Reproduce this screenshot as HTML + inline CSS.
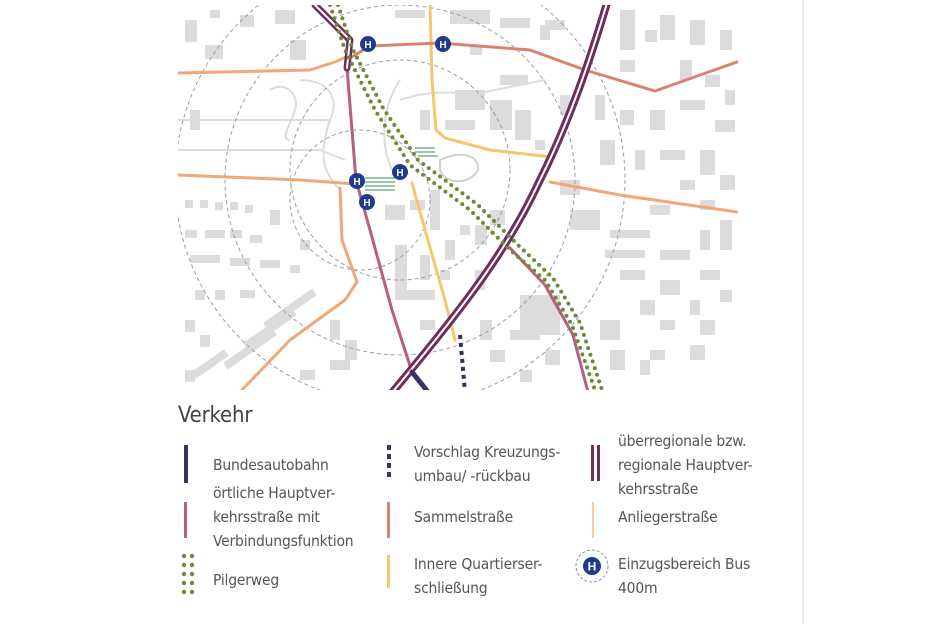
<!DOCTYPE html>
<html><head><meta charset="utf-8"><style>
body{margin:0;width:936px;height:624px;background:#fff;overflow:hidden;position:relative;font-family:"Liberation Sans",sans-serif}
.t{position:absolute;font-size:15.5px;color:#555;line-height:24px;font-family:"DejaVu Sans Condensed","Liberation Sans",sans-serif;letter-spacing:-0.2px}
.ic{position:absolute}
</style></head><body>
<div style="position:absolute;left:802px;top:0;width:2px;height:624px;background:#ececec"></div>
<svg width="936" height="400" style="position:absolute;left:0;top:0">
<defs><clipPath id="c"><rect x="178" y="5" width="560" height="385"/></clipPath></defs>
<g clip-path="url(#c)">
<g fill="#dcdcdc">
<rect x="185" y="20" width="12" height="22"/><rect x="205" y="45" width="18" height="14"/><rect x="240" y="15" width="14" height="12"/><rect x="275" y="10" width="20" height="14"/><rect x="290" y="40" width="16" height="20"/><rect x="210" y="10" width="10" height="8"/>
<rect x="395" y="10" width="30" height="8"/><rect x="450" y="10" width="40" height="14"/><rect x="500" y="18" width="30" height="10"/><rect x="545" y="20" width="20" height="10"/>
<rect x="455" y="90" width="30" height="20"/><rect x="445" y="120" width="30" height="10"/><rect x="490" y="100" width="22" height="30"/><rect x="515" y="110" width="16" height="30"/><rect x="500" y="75" width="28" height="10"/>
<rect x="420" y="110" width="10" height="20"/><rect x="430" y="190" width="10" height="40"/><rect x="410" y="200" width="15" height="10"/><rect x="385" y="205" width="20" height="15"/>
<rect x="395" y="245" width="12" height="55"/><rect x="405" y="290" width="30" height="10"/><rect x="420" y="255" width="10" height="25"/><rect x="445" y="240" width="10" height="20"/><rect x="440" y="270" width="10" height="10"/>
<rect x="475" y="225" width="12" height="20"/><rect x="475" y="270" width="10" height="20"/><rect x="490" y="210" width="15" height="15"/>
<rect x="520" y="295" width="40" height="40"/><rect x="510" y="330" width="30" height="10"/><rect x="600" y="320" width="20" height="20"/><rect x="610" y="350" width="15" height="20"/>
<rect x="560" y="180" width="20" height="15"/><rect x="570" y="210" width="30" height="20"/><rect x="610" y="230" width="40" height="8"/><rect x="605" y="250" width="40" height="8"/><rect x="660" y="250" width="30" height="10"/><rect x="620" y="270" width="25" height="10"/><rect x="660" y="280" width="20" height="15"/><rect x="690" y="300" width="10" height="15"/><rect x="640" y="300" width="15" height="15"/>
<rect x="620" y="10" width="15" height="40"/><rect x="645" y="30" width="12" height="12"/><rect x="660" y="15" width="15" height="25"/><rect x="690" y="20" width="15" height="25"/><rect x="720" y="30" width="12" height="20"/>
<rect x="595" y="95" width="10" height="25"/><rect x="620" y="110" width="14" height="15"/><rect x="650" y="110" width="15" height="20"/><rect x="680" y="100" width="25" height="10"/><rect x="715" y="120" width="20" height="12"/><rect x="600" y="140" width="15" height="25"/><rect x="635" y="150" width="10" height="20"/><rect x="660" y="150" width="25" height="10"/><rect x="700" y="150" width="15" height="25"/><rect x="720" y="175" width="15" height="15"/><rect x="680" y="180" width="15" height="10"/>
<rect x="700" y="230" width="10" height="20"/><rect x="720" y="220" width="12" height="30"/><rect x="700" y="270" width="20" height="10"/>
<rect x="185" y="230" width="12" height="8"/><rect x="205" y="230" width="20" height="8"/><rect x="230" y="230" width="12" height="8"/><rect x="250" y="235" width="12" height="8"/><rect x="190" y="255" width="30" height="8"/><rect x="230" y="258" width="20" height="8"/><rect x="260" y="260" width="20" height="8"/><rect x="290" y="265" width="10" height="8"/><rect x="300" y="240" width="10" height="10"/><rect x="270" y="210" width="10" height="15"/><rect x="195" y="290" width="10" height="10"/><rect x="215" y="290" width="10" height="10"/><rect x="240" y="290" width="15" height="8"/>
<rect x="260" y="305" width="60" height="8" transform="rotate(-35 290 309)"/><rect x="240" y="325" width="60" height="8" transform="rotate(-35 270 329)"/><rect x="220" y="345" width="60" height="8" transform="rotate(-35 250 349)"/><rect x="190" y="360" width="40" height="8" transform="rotate(-35 210 364)"/>
<rect x="330" y="320" width="10" height="20"/><rect x="345" y="340" width="12" height="20"/><rect x="330" y="360" width="20" height="10"/><rect x="300" y="370" width="15" height="10"/>
<rect x="190" y="110" width="10" height="20"/><rect x="660" y="320" width="15" height="10"/><rect x="700" y="320" width="15" height="15"/>
<rect x="185" y="200" width="8" height="8"/><rect x="200" y="200" width="8" height="8"/><rect x="215" y="202" width="8" height="8"/><rect x="230" y="202" width="8" height="8"/><rect x="245" y="205" width="8" height="8"/><rect x="185" y="320" width="10" height="12"/><rect x="200" y="335" width="10" height="12"/><rect x="185" y="370" width="10" height="12"/>
<rect x="680" y="60" width="12" height="20"/><rect x="705" y="75" width="15" height="12"/><rect x="620" y="60" width="15" height="12"/><rect x="725" y="90" width="10" height="15"/><rect x="700" y="200" width="15" height="10"/><rect x="650" y="205" width="20" height="10"/><rect x="690" y="345" width="15" height="15"/><rect x="650" y="350" width="15" height="10"/><rect x="720" y="290" width="12" height="12"/><rect x="640" y="360" width="10" height="15"/>
<rect x="460" y="225" width="10" height="10"/><rect x="420" y="320" width="15" height="10"/><rect x="480" y="320" width="12" height="20"/><rect x="490" y="350" width="15" height="12"/><rect x="545" y="350" width="15" height="15"/><rect x="520" y="370" width="12" height="12"/>
<rect x="540" y="25" width="10" height="15"/><rect x="470" y="45" width="12" height="10"/><rect x="560" y="95" width="10" height="20"/><rect x="535" y="140" width="10" height="10"/>
</g>
<g fill="none" stroke="#ddd" stroke-width="2">
<path d="M178 120 L330 120"/><path d="M178 150 L320 150 L345 160"/><path d="M300 80 C330 80 340 100 330 120 C320 150 320 170 340 190"/><path d="M270 90 C285 80 300 95 295 110 C290 125 280 140 290 140"/>
<path d="M400 80 C380 110 380 150 395 175"/><path d="M400 100 C430 90 460 90 480 100"/><path d="M470 95 L545 80"/>
<path d="M440 160 C460 150 480 155 478 170 C470 185 445 185 440 170 Z" stroke="#cdd4c8"/>
</g>
<g fill="none" stroke="#9a9ab8" stroke-width="1" stroke-dasharray="4 3">
<circle cx="400" cy="170" r="110"/><circle cx="400" cy="180" r="175"/><circle cx="400" cy="180" r="225"/><circle cx="360" cy="200" r="70"/>
</g>
<g fill="none" stroke-linecap="round" stroke-linejoin="round">
<path d="M178 73 L310 70 L335 62 L350 55" stroke="#f0a877" stroke-width="3"/>
<path d="M178 175 L300 180 L355 184" stroke="#f0a877" stroke-width="3"/>
<path d="M340 188 L342 240 L357 282 L345 300 L290 340 L240 392" stroke="#f0a877" stroke-width="3"/>
<path d="M550 182 L620 195 L737 212" stroke="#f0a877" stroke-width="3"/>
<path d="M430 5 L432 80 L436 130 L445 138 L490 150 L552 157" stroke="#f3c76b" stroke-width="3"/>
<path d="M412 183 L425 230 L445 300 L455 340" stroke="#f3c76b" stroke-width="3"/>
<path d="M350 58 L370 46 L440 43 L530 50 L585 70 L655 91 L737 62" stroke="#d9826f" stroke-width="3"/>
<path d="M347 68 L356 180 L370 230 L392 310 L412 372" stroke="#b5607e" stroke-width="3"/>
<path d="M510 248 L545 285 L573 335 L588 392" stroke="#b5607e" stroke-width="3"/>
<path d="M315 5 L350 40 L347 68" stroke="#6e2d5a" stroke-width="7"/><path d="M315 5 L350 40 L347 68" stroke="#fff" stroke-width="2"/>
<path d="M607 3 C590 60 570 120 540 180 C510 245 470 300 390 395" stroke="#6e2d5a" stroke-width="8"/>
<path d="M607 3 C590 60 570 120 540 180 C510 245 470 300 390 395" stroke="#fff" stroke-width="2"/>
<path d="M412 372 L428 392" stroke="#3d2f6b" stroke-width="5"/>
<path d="M460 335 L465 392" stroke="#2f2f6b" stroke-width="4" stroke-dasharray="4 4" stroke-linecap="butt"/>
<path d="M330 5 L345 50 L375 110 L410 165 L470 210 L510 250 L545 280 L572 325 L595 390" stroke="#6b8a3a" stroke-width="4" stroke-dasharray="0 7"/>
<path d="M338 5 L353 50 L383 108 L418 160 L478 205 L518 245 L553 278 L580 323 L602 390" stroke="#6b8a3a" stroke-width="4" stroke-dasharray="0 7"/>
</g>
<g stroke="#7ab48a" stroke-width="1.5"><path d="M365 178 h30 M365 182 h30 M365 186 h30 M365 190 h30"/><path d="M415 148 h20 M415 152 h20 M418 156 h20"/></g>
<g font-family="Liberation Sans" font-size="10" font-weight="bold" fill="#fff" text-anchor="middle">
<circle cx="368" cy="44" r="8" fill="#1f3c8c"/><text x="368" y="48">H</text>
<circle cx="443" cy="44" r="8" fill="#1f3c8c"/><text x="443" y="48">H</text>
<circle cx="357" cy="181" r="8" fill="#1f3c8c"/><text x="357" y="185">H</text>
<circle cx="367" cy="202" r="8" fill="#1f3c8c"/><text x="367" y="206">H</text>
<circle cx="400" cy="172" r="8" fill="#1f3c8c"/><text x="400" y="176">H</text>
</g>
</g>
</svg>
<div class="t" style="left:178px;top:402px;font-size:22px;color:#444;line-height:28px">Verkehr</div>
<div class="ic" style="left:184px;top:445px;width:4px;height:38px;background:#3d2f6b"></div>
<div class="t" style="left:213px;top:453px">Bundesautobahn</div>
<div class="ic" style="left:184px;top:502px;width:3px;height:36px;background:#b5607e"></div>
<div class="t" style="left:213px;top:481px">örtliche Hauptver-<br>kehrsstraße mit<br>Verbindungsfunktion</div>
<svg class="ic" style="left:180px;top:552px" width="16" height="44"><g fill="#6b8a3a"><circle cx="4" cy="4" r="2.2"/><circle cx="12" cy="4" r="2.2"/><circle cx="4" cy="13" r="2.2"/><circle cx="12" cy="13" r="2.2"/><circle cx="4" cy="22" r="2.2"/><circle cx="12" cy="22" r="2.2"/><circle cx="4" cy="31" r="2.2"/><circle cx="12" cy="31" r="2.2"/><circle cx="4" cy="40" r="2.2"/><circle cx="12" cy="40" r="2.2"/></g></svg>
<div class="t" style="left:213px;top:568px">Pilgerweg</div>
<div class="ic" style="left:387px;top:445px;width:4px;height:36px;background:repeating-linear-gradient(#3d2f6b 0 5px,transparent 5px 9px)"></div>
<div class="t" style="left:414px;top:440px">Vorschlag Kreuzungs-<br>umbau/ -rückbau</div>
<div class="ic" style="left:387px;top:502px;width:3px;height:36px;background:#d9826f"></div>
<div class="t" style="left:414px;top:505px">Sammelstraße</div>
<div class="ic" style="left:387px;top:555px;width:3px;height:33px;background:#f3c76b"></div>
<div class="t" style="left:414px;top:552px">Innere Quartierser-<br>schließung</div>
<div class="ic" style="left:591px;top:445px;width:3px;height:36px;background:#6e2d5a"></div>
<div class="ic" style="left:597px;top:445px;width:3px;height:36px;background:#6e2d5a"></div>
<div class="t" style="left:618px;top:429px">überregionale bzw.<br>regionale Hauptver-<br>kehrsstraße</div>
<div class="ic" style="left:592px;top:502px;width:2px;height:36px;background:#f6c9a8"></div>
<div class="t" style="left:618px;top:505px">Anliegerstraße</div>
<svg class="ic" style="left:574px;top:548px" width="36" height="36"><circle cx="18" cy="18" r="16" fill="none" stroke="#8a8ad0" stroke-dasharray="3 2"/><circle cx="18" cy="18" r="9" fill="#1f3c8c"/><text x="18" y="22.5" fill="#fff" font-family="Liberation Sans" font-weight="bold" font-size="12" text-anchor="middle">H</text></svg>
<div class="t" style="left:618px;top:552px">Einzugsbereich Bus<br>400m</div>
</body></html>
